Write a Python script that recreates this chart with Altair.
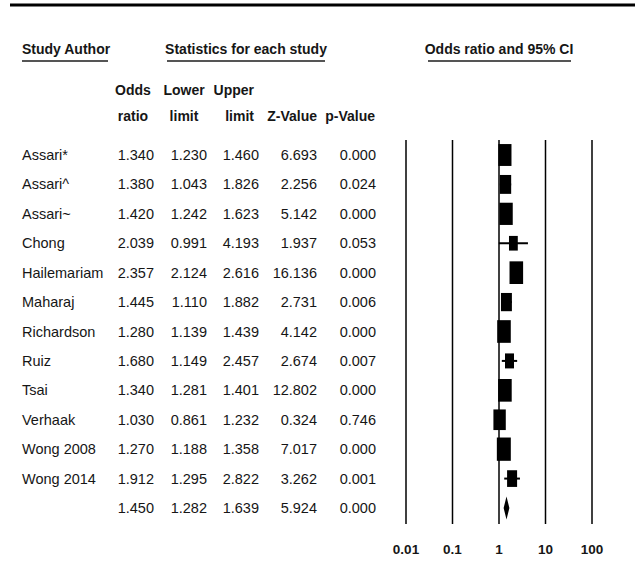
import altair as alt
import pandas as pd

# Study-level results
studies = ["Assari*", "Assari^", "Assari~", "Chong", "Hailemariam", "Maharaj",
           "Richardson", "Ruiz", "Tsai", "Verhaak", "Wong 2008", "Wong 2014"]
odds_ratio = [1.340, 1.380, 1.420, 2.039, 2.357, 1.445, 1.280, 1.680, 1.340, 1.030, 1.270, 1.912]
lower_limit = [1.230, 1.043, 1.242, 0.991, 2.124, 1.110, 1.139, 1.149, 1.281, 0.861, 1.188, 1.295]
upper_limit = [1.460, 1.826, 1.623, 4.193, 2.616, 1.882, 1.439, 2.457, 1.401, 1.232, 1.358, 2.822]
z_value = [6.693, 2.256, 5.142, 1.937, 16.136, 2.731, 4.142, 2.674, 12.802, 0.324, 7.017, 3.262]
p_value = [0.000, 0.024, 0.000, 0.053, 0.000, 0.006, 0.000, 0.007, 0.000, 0.746, 0.000, 0.001]
# relative study weights (%), shown through the box area
weights = [9.8, 7.3, 10.1, 4.4, 10.5, 6.8, 10.5, 4.6, 10.5, 8.7, 11.1, 5.7]

# Pooled estimate
pooled_or, pooled_lower, pooled_upper, pooled_z, pooled_p = 1.450, 1.282, 1.639, 5.924, 0.000

axis_ticks = [0.01, 0.1, 1, 10, 100]
axis_tick_labels = ["0.01", "0.1", "1", "10", "100"]

rows = pd.DataFrame({
    "row": list(range(len(studies))),
    "label": studies,
    "odds": odds_ratio,
    "lower": lower_limit,
    "upper": upper_limit,
    "z": z_value,
    "p": p_value,
    "weight": weights,
    "kind": "study",
})
summary = pd.DataFrame({
    "row": [len(studies)], "label": [""], "odds": [pooled_or], "lower": [pooled_lower],
    "upper": [pooled_upper], "z": [pooled_z], "p": [pooled_p], "weight": [0.0],
    "kind": ["summary"],
})
table = pd.concat([rows, summary], ignore_index=True)
ticks_df = pd.DataFrame({"tick": axis_ticks, "text": axis_tick_labels})

FONT = "Liberation Sans, Arial, Helvetica, sans-serif"
INK = "#161616"
FS = 14.5

y_row = alt.Y("row:Q", scale=alt.Scale(domain=[0, 12], range=[155, 508]), axis=None)
x_or = alt.Scale(type="log", domain=[0.01, 100], range=[406, 592])

base = alt.Chart(table)


def column(field, xpos, fmt=None, align="right"):
    txt = alt.Text(f"{field}:Q", format=fmt) if fmt else alt.Text(f"{field}:N")
    return base.mark_text(font=FONT, fontSize=FS, align=align, baseline="middle",
                          color=INK, dy=1).encode(x=alt.value(xpos), y=y_row, text=txt)


def label(text, x, y, align="center", bold=True, size=14):
    return alt.Chart(alt.Data(values=[{}])).mark_text(
        text=text, font=FONT, fontSize=size, fontWeight="bold" if bold else "normal",
        align=align, baseline="alphabetic", color=INK,
    ).encode(x=alt.value(x), y=alt.value(y))


def underline(x1, x2, y):
    return alt.Chart(alt.Data(values=[{}])).mark_rule(color="#555555", strokeWidth=2).encode(
        x=alt.value(x1), x2=alt.value(x2), y=alt.value(y))


top_rule = alt.Chart(alt.Data(values=[{}])).mark_rule(color="black", strokeWidth=3).encode(
    x=alt.value(10), x2=alt.value(635), y=alt.value(5))

headers = [
    label("Study Author", 22, 54, align="left"),
    underline(22, 108, 61),
    label("Statistics for each study", 246, 54),
    underline(167, 325, 61),
    label("Odds ratio and 95% CI", 499, 54),
    underline(428, 571, 61),
    label("Odds", 133, 95), label("ratio", 133, 121),
    label("Lower", 184, 95), label("limit", 184, 121),
    label("Upper", 254, 95, align="right"), label("limit", 254, 121, align="right"),
    label("Z-Value", 317, 121, align="right"),
    label("p-Value", 375, 121, align="right"),
]

names = base.mark_text(font=FONT, fontSize=FS, align="left", baseline="middle",
                       color=INK, dy=1).encode(x=alt.value(22), y=y_row, text="label:N")

cols = [
    column("odds", 154, ".3f"),
    column("lower", 207, ".3f"),
    column("upper", 259, ".3f"),
    column("z", 317, ".3f"),
    column("p", 376, ".3f"),
]

grid = alt.Chart(ticks_df).mark_rule(color="black", strokeWidth=1.5).encode(
    x=alt.X("tick:Q", scale=x_or, axis=None), y=alt.value(140), y2=alt.value(524))

tick_text = alt.Chart(ticks_df).mark_text(
    font=FONT, fontSize=13.5, fontWeight="bold", baseline="alphabetic", color=INK
).encode(x=alt.X("tick:Q", scale=x_or, axis=None), y=alt.value(554), text="text:N")

study_only = base.transform_filter(alt.datum.kind == "study")

whiskers = study_only.mark_rule(color="black", strokeWidth=2).encode(
    x=alt.X("lower:Q", scale=x_or, axis=None), x2="upper:Q", y=y_row)

boxes = study_only.mark_point(
    shape="M-0.6,-1L0.6,-1L0.6,1L-0.6,1Z", filled=True, fill="black", opacity=1
).encode(
    x=alt.X("odds:Q", scale=x_or, axis=None), y=y_row,
    size=alt.Size("weight:Q", scale=alt.Scale(domain=[0, 11.1], range=[0, 543]), legend=None),
)

diamond = base.transform_filter(alt.datum.kind == "summary").mark_point(
    shape="M0,-1L0.25,0L0,1L-0.25,0Z", filled=True, fill="black", opacity=1, size=529
).encode(x=alt.X("odds:Q", scale=x_or, axis=None), y=y_row)

chart = alt.layer(
    top_rule, *headers, names, *cols, grid, tick_text, whiskers, boxes, diamond
).properties(
    width=635, height=576, padding=0, autosize="none", background="white"
).configure_view(stroke=None)

chart.save("out.html", embed_options={"renderer": "svg", "actions": False})
